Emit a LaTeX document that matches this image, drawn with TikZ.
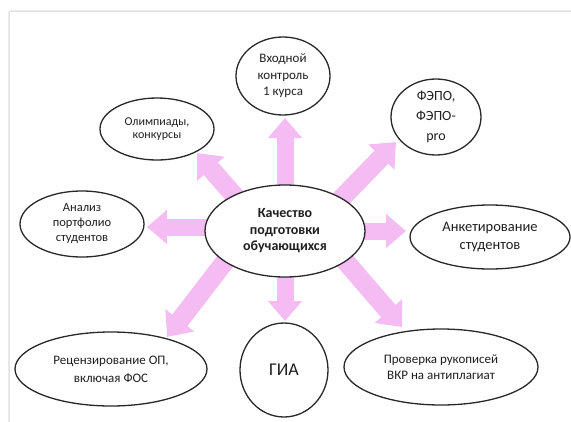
\documentclass[tikz,border=0pt]{standalone}
\usepackage{fontspec}
\setmainfont{Carlito}
\usetikzlibrary{shapes.geometric,arrows.meta,backgrounds}
\definecolor{arrowpink}{RGB}{244,188,242}
\definecolor{framegray}{RGB}{225,225,225}
\definecolor{outline}{RGB}{40,40,40}
\tikzset{
  oval/.style={ellipse, draw=outline, line width=1.3pt, fill=white, inner sep=0pt, align=center, text=black!88},
  bigarrow/.style={draw=arrowpink, line width=17pt, -{Triangle[length=20pt,width=33pt]}, arrowpink},
  diagarrow/.style={bigarrow, line width=19pt, -{Triangle[length=21pt,width=35pt]}},
}
\newcommand{\fs}[2]{\fontsize{#1}{#2}\selectfont}
\begin{document}
\begin{tikzpicture}[x=1pt,y=-1pt]
\useasboundingbox (0,0) rectangle (571,421);
\draw[framegray, line width=1.5pt, rounded corners=2pt] (9,430) -- (9,11) -- (580,11);

\node[oval, minimum width=160pt, minimum height=92pt, font=\bfseries\fs{14}{16.5}] (c) at (285,231) {Качество\\подготовки\\обучающихся};
\node[oval, minimum width=94pt, minimum height=78pt, font=\fs{13}{16.5}] (top) at (283,76) {Входной\\контроль\\1 курса};
\node[oval, minimum width=114pt, minimum height=62pt, font=\fs{12}{13.5}] (olim) at (157,129) {Олимпиады,\\конкурсы};
\node[oval, minimum width=90pt, minimum height=76pt, font=\fs{14}{20}] (fepo) at (436,117) {ФЭПО,\\ФЭПО-\\pro};
\node[oval, minimum width=124pt, minimum height=66pt, font=\fs{12.5}{15}] (anal) at (82,224) {Анализ\\портфолио\\студентов};
\node[oval, minimum width=160pt, minimum height=64pt, font=\fs{14.5}{18}] (anket) at (490,237) {Анкетирование\\студентов};
\node[oval, minimum width=192pt, minimum height=74pt, font=\fs{13}{18}] (rec) at (111,369) {Рецензирование ОП,\\включая ФОС};
\node[oval, minimum width=88pt, minimum height=94pt, font=\fs{18}{20}] (gia) at (284,370) {ГИА};
\node[oval, minimum width=194pt, minimum height=76pt, font=\fs{13}{16}] (prov) at (441,367) {Проверка рукописей\\ВКР на антиплагиат};

\coordinate (s1) at (285,200); \coordinate (e1) at (285,118);
\coordinate (s2) at (285,260); \coordinate (e2) at (285,321);
\coordinate (s3) at (230,227); \coordinate (e3) at (147,227);
\coordinate (s4) at (340,231); \coordinate (e4) at (406,231);
\coordinate (s5) at (240,202); \coordinate (e5) at (197,153);
\coordinate (s6) at (340,200); \coordinate (e6) at (396,142);
\coordinate (s7) at (230,255); \coordinate (e7) at (167,337);
\coordinate (s8) at (340,255); \coordinate (e8) at (402,327);

\begin{pgfonlayer}{background}
\foreach \i in {1,...,4} { \draw[bigarrow] (s\i) -- (e\i); }
\foreach \i in {5,...,8} { \draw[diagarrow] (s\i) -- (e\i); }
\end{pgfonlayer}
\end{tikzpicture}
\end{document}
